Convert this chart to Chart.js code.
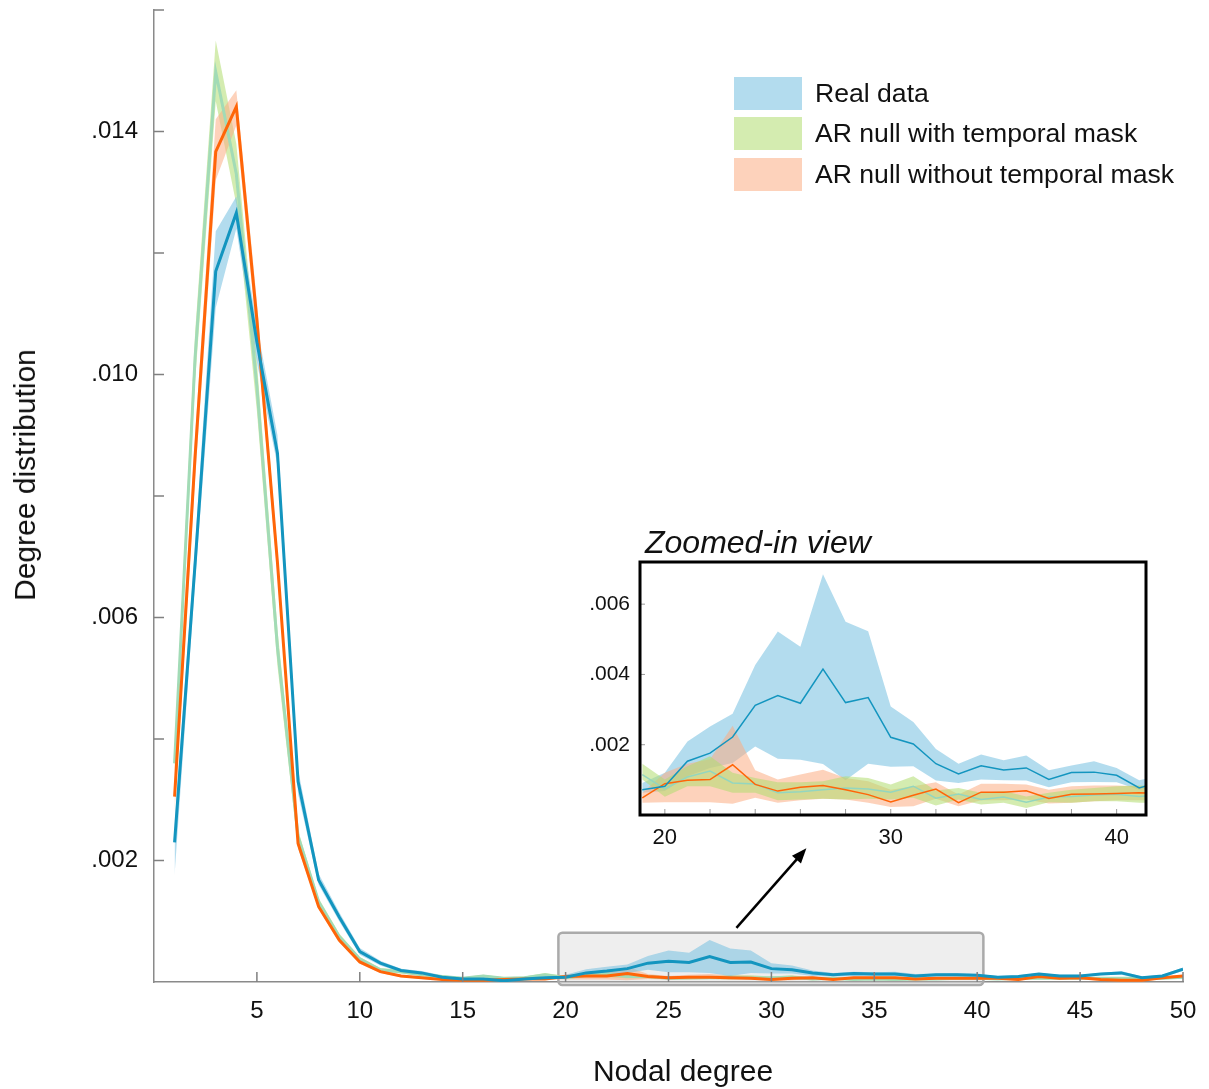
<!DOCTYPE html>
<html>
<head>
<meta charset="utf-8">
<script src="https://cdn.jsdelivr.net/npm/chart.js@4.4.0/dist/chart.umd.min.js"></script>
<style>
  body { margin: 0; background: #fff; font-family: "Liberation Sans", Arial, sans-serif; }
  #wrap { position: relative; width: 1209px; height: 1089px; overflow: hidden; }
  #main { position: absolute; left: 0; top: 0; }
  #inset { position: absolute; left: 560px; top: 520px; }
  .ttl { position: absolute; white-space: nowrap; color: #111; font-size: 30px; }
  #xTitle { left: 683px; top: 1071px; transform: translate(-50%, -50%); }
  #yTitle { left: 25px; top: 475px; transform: translate(-50%, -50%) rotate(-90deg); }
  #zoomTitle { left: 645px; top: 542px; transform: translateY(-50%); font-style: italic; font-size: 32px; }
  .legend { position: absolute; left: 734px; top: 73px; }
  .legend div { display: flex; align-items: center; height: 40.5px; font-size: 26.6px; color: #111; }
  .legend .sw { display: inline-block; width: 68px; height: 33px; margin-right: 13px; }
</style>
</head>
<body>
<div id="wrap">
  <canvas id="main" width="1209" height="1089"></canvas>
  <canvas id="inset" width="620" height="340"></canvas>
  <div class="ttl" id="xTitle">Nodal degree</div>
  <div class="ttl" id="yTitle">Degree distribution</div>
  <div class="ttl" id="zoomTitle">Zoomed-in view</div>
  <div class="legend">
    <div><span class="sw" style="background:#b3dcee"></span>Real data</div>
    <div><span class="sw" style="background:#d4ecb0"></span>AR null with temporal mask</div>
    <div><span class="sw" style="background:#fdd2bb"></span>AR null without temporal mask</div>
  </div>
</div>
<script>
// ---- main panel data (degree 1..50) ----
const degrees = [1,2,3,4,5,6,7,8,9,10,11,12,13,14,15,16,17,18,19,20,21,22,23,24,25,
                 26,27,28,29,30,31,32,33,34,35,36,37,38,39,40,41,42,43,44,45,46,47,48,49,50];

const realMean = [0.0023,0.0069,0.0117,0.01266,0.01053,0.0087,0.0033,0.00168,0.00107,0.0005,0.00031,0.00019,0.00015,0.00008,0.00005,0.00005,0.00002,0.00005,
  0.00007,0.00008,0.00015,0.00018,0.00022,0.00031,0.00034,0.00032,0.00042,0.00032,0.00033,0.00022,0.0002,0.00015,0.00012,0.00014,0.00013,0.00013,0.0001,0.00012,0.00012,0.00011,0.00008,
  0.00009,0.00013,0.0001,0.0001,0.00013,0.00015,0.00007,0.0001,0.00021];
const realLo = [0.00176,0.0066,0.0111,0.0124,0.0102,0.0085,0.0031,0.0016,0.001,0.00045,0.00027,0.00016,0.00012,0.00006,0.00003,0.00003,0.0,0.00003,
  0.00006,0.00007,0.00011,0.00013,0.00015,0.0002,0.00016,0.00016,0.00015,0.0001,0.00015,0.00014,0.00014,0.0001,0.00009,0.0001,0.0001,0.0001,0.00008,0.00009,0.00009,0.00009,0.00007,
  0.00007,0.00011,0.00008,0.00008,0.00011,0.00012,0.00005,0.00008,0.00018];
const realHi = [0.0026,0.0072,0.01236,0.01293,0.0108,0.009,0.0035,0.00178,0.00115,0.00056,0.00035,0.00022,0.00018,0.00011,0.00007,0.00007,0.00004,0.00007,
  0.00009,0.00012,0.00021,0.00025,0.00029,0.00043,0.00052,0.00048,0.00069,0.00055,0.00052,0.00031,0.00027,0.00019,0.00015,0.00017,0.00016,0.00017,0.00013,0.00014,0.00015,0.00013,0.0001,
  0.00011,0.00015,0.00012,0.00012,0.00015,0.00018,0.00009,0.00012,0.00024];

const maskMean = [0.0036,0.0103,0.01498,0.0133,0.0098,0.0055,0.0024,0.00132,0.00075,0.00038,0.0002,0.00017,0.00012,0.00009,0.00006,0.0001,0.00006,0.00007,
  0.00012,0.00007,0.00011,0.00013,0.00009,0.00009,0.00006,0.00007,0.00007,0.00008,0.00007,0.00007,0.00008,0.00005,0.00006,0.00004,0.00005,0.00004,0.00005,0.00005,0.00006,0.00006,0.00005,
  0.00006,0.00006,0.00006,0.00006,0.00006,0.00006,0.00006,0.00006,0.00008];
const maskLo = [0.0034,0.0099,0.0145,0.0128,0.0094,0.0052,0.0022,0.00126,0.0007,0.00035,0.00017,0.00014,0.0001,0.00007,0.00004,0.00008,0.00004,0.00005,
  0.0001,0.00005,0.00008,0.00008,0.00006,0.00006,0.00004,0.00004,0.00005,0.00004,0.00005,0.00004,0.00005,0.00003,0.00004,0.00003,0.00004,0.00002,0.00004,0.00004,0.00004,0.00004,0.00004,
  0.00004,0.00004,0.00004,0.00004,0.00004,0.00004,0.00004,0.00004,0.00006];
const maskHi = [0.0038,0.0107,0.0155,0.0138,0.0102,0.0058,0.0025,0.00138,0.0008,0.00041,0.00023,0.0002,0.00014,0.00011,0.00008,0.00012,0.00008,0.00009,
  0.00015,0.0001,0.00014,0.00017,0.00012,0.00011,0.00009,0.00009,0.0001,0.00011,0.00011,0.00009,0.00011,0.00007,0.00008,0.00006,0.00007,0.00005,0.00006,0.00007,0.00008,0.00008,0.00008,
  0.00008,0.00008,0.00008,0.00008,0.00008,0.00008,0.00008,0.00008,0.0001];

const noMaskMean = [0.00305,0.00867,0.01367,0.01441,0.0109,0.0069,0.00228,0.00124,0.00069,0.00033,0.00017,0.0001,0.00007,0.00004,0.00003,0.00003,0.00004,0.00005,
  0.00005,0.00009,0.0001,0.0001,0.00014,0.00009,0.00007,0.00008,0.00008,0.00007,0.00006,0.00004,0.00006,0.00007,0.00004,0.00007,0.00007,0.00007,0.00005,0.00006,0.00006,0.00006,0.00006,
  0.00004,0.00009,0.00006,0.00007,0.00004,0.00003,0.00003,0.00007,0.0001];
const noMaskLo = [0.0028,0.0083,0.0132,0.0141,0.0106,0.0067,0.0022,0.0012,0.00065,0.0003,0.00015,0.00008,0.00005,0.00003,0.00002,0.00002,0.00003,0.00003,
  0.00004,0.00004,0.00004,0.00004,0.00003,0.00005,0.00004,0.00004,0.00005,0.00004,0.00004,0.00002,0.00003,0.00005,0.00003,0.00004,0.00004,0.00004,0.00003,0.00004,0.00004,0.00004,0.00004,
  0.00002,0.00007,0.00004,0.00005,0.00002,0.00001,0.00001,0.00005,0.00008];
const noMaskHi = [0.0036,0.009,0.0142,0.01468,0.0112,0.0071,0.0024,0.0013,0.00073,0.00036,0.00019,0.00012,0.00009,0.00006,0.00005,0.00005,0.00006,0.00007,
  0.00006,0.00012,0.00015,0.00016,0.00025,0.00013,0.0001,0.00012,0.00013,0.00011,0.0001,0.00007,0.00008,0.00009,0.00006,0.00009,0.00009,0.00009,0.00007,0.00008,0.00008,0.00008,0.00008,
  0.00006,0.00011,0.00008,0.00009,0.00006,0.00005,0.00005,0.00009,0.00012];

const xTicks = [5,10,15,20,25,30,35,40,45,50];
const yTicks = [0.002,0.006,0.010,0.014];
const yMarks = [0.002,0.004,0.006,0.008,0.010,0.012,0.014,0.016];

// ---- zoomed-in panel data (degree 19..42) ----
const zDegrees = [19,20,21,22,23,24,25,26,27,28,29,30,31,32,33,34,35,36,37,38,39,40,41,42];
const zRealMean = [0.00072,0.00082,0.00153,0.00176,0.00222,0.00312,0.0034,0.00318,0.00415,0.0032,0.00334,0.00221,0.00202,0.00146,0.00117,0.0014,0.00128,0.00134,0.00101,0.00121,0.00122,0.00113,0.00077,0.00096];
const zRealLo = [0.00063,0.00068,0.0011,0.00134,0.00148,0.00195,0.0016,0.00157,0.00145,0.00099,0.00146,0.00137,0.00139,0.00098,0.00091,0.00101,0.00099,0.00098,0.00079,0.00093,0.00094,0.00093,0.00072,0.0008];
const zRealHi = [0.00091,0.0012,0.00209,0.00252,0.00288,0.00427,0.00522,0.00479,0.00685,0.0055,0.00523,0.00309,0.00265,0.00188,0.00146,0.00172,0.00156,0.00169,0.00127,0.00141,0.00153,0.00134,0.00099,0.00112];
const zMaskMean = [0.00115,0.00074,0.00108,0.00125,0.00091,0.00088,0.00063,0.00066,0.00072,0.00077,0.00074,0.00065,0.00082,0.00048,0.0006,0.00044,0.00051,0.00036,0.00051,0.00053,0.00057,0.00059,0.00053,0.00056];
const zMaskLo = [0.00101,0.00052,0.00082,0.00082,0.00063,0.00063,0.00042,0.00044,0.00046,0.00044,0.00046,0.00044,0.00049,0.00027,0.00044,0.0003,0.00035,0.0002,0.00036,0.00035,0.00039,0.00039,0.00035,0.00035];
const zMaskHi = [0.00146,0.00101,0.00139,0.00167,0.0012,0.00105,0.00093,0.00093,0.00096,0.0011,0.00105,0.00087,0.0011,0.0007,0.00077,0.00063,0.00068,0.00053,0.00063,0.00072,0.00077,0.00082,0.00084,0.00085];
const zNoMaskMean = [0.00049,0.00089,0.00099,0.00101,0.00143,0.00087,0.00068,0.00079,0.00084,0.00072,0.00058,0.00037,0.00056,0.00074,0.00035,0.00065,0.00065,0.00069,0.00047,0.00059,0.0006,0.00061,0.00063,0.00062];
const zNoMaskLo = [0.00035,0.00036,0.00036,0.00036,0.00032,0.00049,0.00035,0.00042,0.00046,0.00044,0.00035,0.00023,0.00025,0.00046,0.00025,0.00042,0.00042,0.00044,0.00033,0.00035,0.00039,0.00042,0.00042,0.00042];
const zNoMaskHi = [0.00063,0.0012,0.00146,0.00159,0.00254,0.00127,0.00101,0.00115,0.00129,0.00105,0.00096,0.00072,0.00082,0.00093,0.00058,0.00089,0.00089,0.00087,0.00072,0.00082,0.00084,0.00084,0.00082,0.00082];

const zXTicks = [20,30,40];
const zXMarks = [20,22,24,26,28,30,32,34,36,38,40];
const zYTicks = [0.002,0.004,0.006];

// colours
const blueLine = '#1395bf', orangeLine = '#ff6508', greenLine = '#a2dbb6';
const blueBand = 'rgba(117,191,224,0.55)';
const greenBand = 'rgba(177,220,111,0.55)';
const orangeBand = 'rgba(251,173,131,0.55)';

Chart.defaults.font.family = '"Liberation Sans", Arial, sans-serif';
Chart.defaults.color = '#111';

function pts(xs, ys) {
  return xs.map((x, i) => ({ x: x, y: ys[i] }));
}
function band(xs, lo, hi, color, order) {
  return [
    { data: pts(xs, lo), borderWidth: 0, borderColor: 'transparent', pointRadius: 0, fill: false, order: order },
    { data: pts(xs, hi), borderWidth: 0, borderColor: 'transparent', pointRadius: 0, fill: '-1', backgroundColor: color, order: order }
  ];
}
function line(xs, ys, color, w, order) {
  return { data: pts(xs, ys), borderColor: color, borderWidth: w, pointRadius: 0, fill: false, tension: 0, order: order };
}
// keep the plot box exactly where the layout padding puts it
function noEdgePad(s) {
  s.paddingTop = 0; s.paddingBottom = 0; s.paddingLeft = 0; s.paddingRight = 0;
}

// inward tick marks, the grey box and the arrow
const mainDeco = {
  id: 'mainDeco',
  beforeDatasetsDraw(chart) {
    const { ctx, scales: { x, y } } = chart;
    const x1 = x.getPixelForValue(19.65), x2 = x.getPixelForValue(40.3);
    const y1 = y.getPixelForValue(0.00081), y2 = y.getPixelForValue(-0.00005);
    ctx.save();
    ctx.beginPath();
    ctx.roundRect(x1, y1, x2 - x1, y2 - y1, 4);
    ctx.fillStyle = 'rgba(200,200,200,0.3)';
    ctx.fill();
    ctx.lineWidth = 2.5;
    ctx.strokeStyle = '#aaaaaa';
    ctx.stroke();
    ctx.restore();
  },
  afterDatasetsDraw(chart) {
    const { ctx, chartArea: a, scales: { x, y } } = chart;
    ctx.save();
    ctx.strokeStyle = '#808080';
    ctx.lineWidth = 1.5;
    ctx.beginPath();
    yMarks.forEach(v => {
      const py = y.getPixelForValue(v);
      ctx.moveTo(a.left, py); ctx.lineTo(a.left + 10, py);
    });
    xTicks.forEach(v => {
      const px = x.getPixelForValue(v);
      ctx.moveTo(px, a.bottom); ctx.lineTo(px, a.bottom - 10);
    });
    ctx.stroke();

    // arrow to the zoomed-in view
    const sx = x.getPixelForValue(28.3), sy = y.getPixelForValue(0.00089);
    const ex = x.getPixelForValue(31.7), ey = y.getPixelForValue(0.0022);
    const ang = Math.atan2(ey - sy, ex - sx);
    ctx.strokeStyle = '#000';
    ctx.fillStyle = '#000';
    ctx.lineWidth = 2.5;
    ctx.beginPath();
    ctx.moveTo(sx, sy);
    ctx.lineTo(ex - 10 * Math.cos(ang), ey - 10 * Math.sin(ang));
    ctx.stroke();
    ctx.beginPath();
    ctx.moveTo(ex, ey);
    ctx.lineTo(ex - 15 * Math.cos(ang) + 6 * Math.sin(ang), ey - 15 * Math.sin(ang) - 6 * Math.cos(ang));
    ctx.lineTo(ex - 15 * Math.cos(ang) - 6 * Math.sin(ang), ey - 15 * Math.sin(ang) + 6 * Math.cos(ang));
    ctx.closePath();
    ctx.fill();
    ctx.restore();
  }
};

new Chart(document.getElementById('main'), {
  type: 'line',
  data: {
    datasets: [
      line(degrees, realMean, blueLine, 3, 0),
      line(degrees, noMaskMean, orangeLine, 3, 1),
      line(degrees, maskMean, greenLine, 3, 2),
      ...band(degrees, realLo, realHi, blueBand, 3),
      ...band(degrees, noMaskLo, noMaskHi, orangeBand, 4),
      ...band(degrees, maskLo, maskHi, greenBand, 5)
    ]
  },
  options: {
    responsive: false,
    animation: false,
    events: [],
    layout: { padding: { left: 0, top: 10, right: 26, bottom: 0 } },
    plugins: { legend: { display: false }, tooltip: { enabled: false } },
    scales: {
      x: {
        type: 'linear', min: 0, max: 50,
        afterBuildTicks: s => { s.ticks = xTicks.map(v => ({ value: v })); },
        afterFit: s => { s.height = 107; noEdgePad(s); },
        grid: { display: false, drawTicks: false },
        border: { display: true, color: '#8a8a8a', width: 1.5 },
        ticks: { font: { size: 24 }, padding: 15, maxRotation: 0, autoSkip: false }
      },
      y: {
        type: 'linear', min: 0, max: 0.016,
        afterBuildTicks: s => { s.ticks = yTicks.map(v => ({ value: v })); },
        afterFit: s => { s.width = 154; noEdgePad(s); },
        grid: { display: false, drawTicks: false },
        border: { display: true, color: '#8a8a8a', width: 1.5 },
        ticks: { font: { size: 24 }, padding: 16, callback: v => v.toFixed(3).slice(1) }
      }
    }
  },
  plugins: [mainDeco]
});

const insetDeco = {
  id: 'insetDeco',
  beforeDraw(chart) {
    const { ctx, chartArea: a } = chart;
    ctx.save();
    ctx.fillStyle = '#fff';
    ctx.fillRect(a.left, a.top, a.right - a.left, a.bottom - a.top);
    ctx.restore();
  },
  afterDraw(chart) {
    const { ctx, chartArea: a, scales: { x, y } } = chart;
    ctx.save();
    ctx.strokeStyle = '#999';
    ctx.lineWidth = 1;
    ctx.beginPath();
    zXMarks.forEach(v => {
      const px = x.getPixelForValue(v);
      ctx.moveTo(px, a.bottom); ctx.lineTo(px, a.bottom - 6);
    });
    zYTicks.forEach(v => {
      const py = y.getPixelForValue(v);
      ctx.moveTo(a.left, py); ctx.lineTo(a.left + 5, py);
    });
    ctx.stroke();
    ctx.strokeStyle = '#000';
    ctx.lineWidth = 3;
    ctx.strokeRect(a.left, a.top, a.right - a.left, a.bottom - a.top);
    ctx.restore();
  }
};

new Chart(document.getElementById('inset'), {
  type: 'line',
  data: {
    datasets: [
      line(zDegrees, zRealMean, blueLine, 1.5, 0),
      line(zDegrees, zNoMaskMean, orangeLine, 1.5, 1),
      line(zDegrees, zMaskMean, '#93d6bf', 1.5, 2),
      ...band(zDegrees, zRealLo, zRealHi, blueBand, 5),
      ...band(zDegrees, zNoMaskLo, zNoMaskHi, orangeBand, 4),
      ...band(zDegrees, zMaskLo, zMaskHi, greenBand, 3)
    ]
  },
  options: {
    responsive: false,
    animation: false,
    events: [],
    layout: { padding: { left: 0, top: 42, right: 34, bottom: 0 } },
    plugins: { legend: { display: false }, tooltip: { enabled: false } },
    scales: {
      x: {
        type: 'linear', min: 18.9, max: 41.3,
        afterBuildTicks: s => { s.ticks = zXTicks.map(v => ({ value: v })); },
        afterFit: s => { s.height = 45; noEdgePad(s); },
        grid: { display: false, drawTicks: false },
        border: { display: false },
        ticks: { font: { size: 22 }, padding: 10, maxRotation: 0, autoSkip: false }
      },
      y: {
        type: 'linear', min: 0, max: 0.0072,
        afterBuildTicks: s => { s.ticks = zYTicks.map(v => ({ value: v })); },
        afterFit: s => { s.width = 80; noEdgePad(s); },
        grid: { display: false, drawTicks: false },
        border: { display: false },
        ticks: { font: { size: 21 }, padding: 10, callback: v => v.toFixed(3).slice(1) }
      }
    }
  },
  plugins: [insetDeco]
});
</script>
</body>
</html>
